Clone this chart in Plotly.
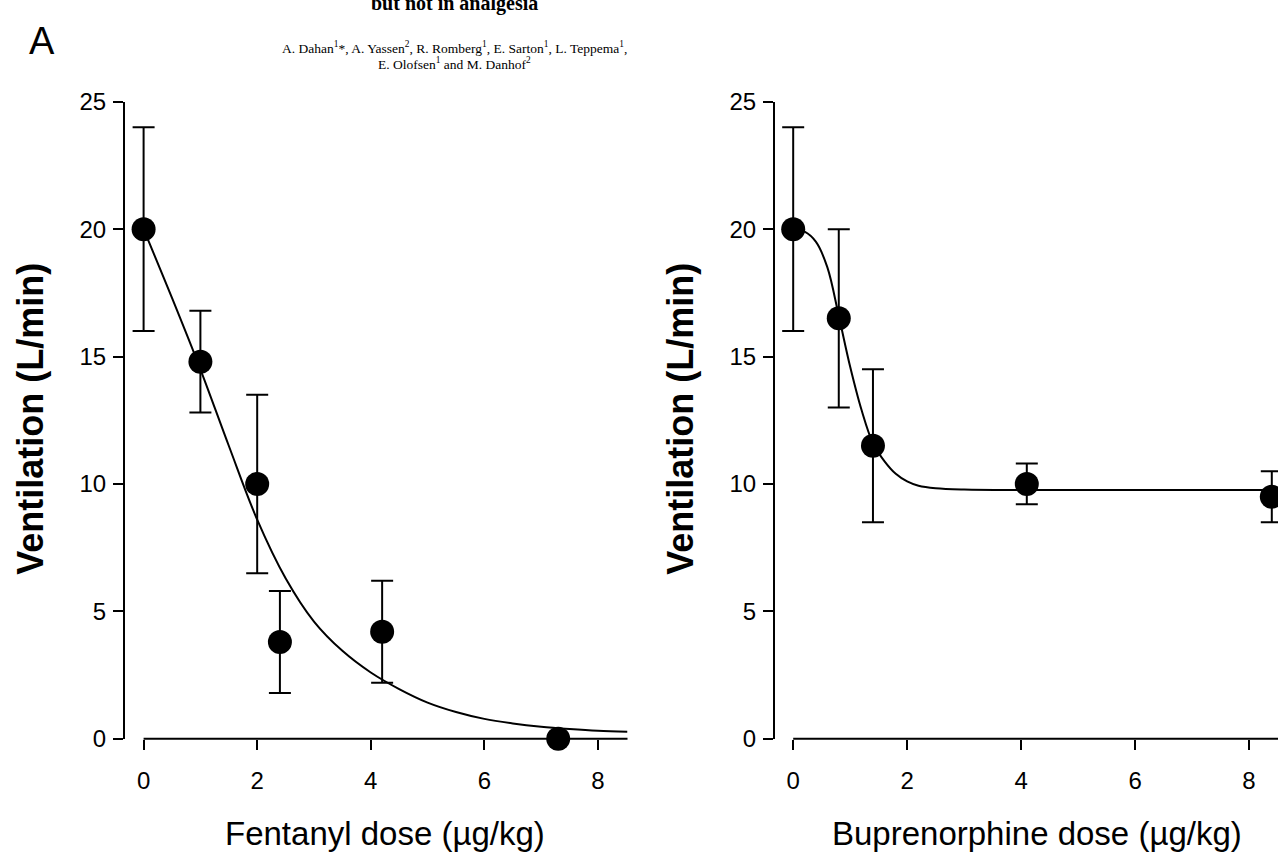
import plotly.graph_objects as go

# ---------------- data ----------------
fent_dose = [0.0, 1.0, 2.0, 2.4, 4.2, 7.3]
fent_vent = [20.0, 14.8, 10.0, 3.8, 4.2, 0.0]
fent_err = [4.0, 2.0, 3.5, 2.0, 2.0, 0.0]

fent_fit_x = [0.0, 0.5, 1.0, 1.5, 2.0, 2.5, 3.0, 3.5, 4.0, 4.5, 5.0, 5.5, 6.0, 6.5, 7.0, 7.5, 8.0, 8.52]
fent_fit_y = [20.0, 17.3, 14.5, 11.5, 8.6, 6.3, 4.6, 3.45, 2.6, 1.95, 1.42, 1.05, 0.78, 0.6, 0.47, 0.38, 0.31, 0.27]

bup_dose = [0.0, 0.8, 1.4, 4.1, 8.4]
bup_vent = [20.0, 16.5, 11.5, 10.0, 9.5]
bup_err = [4.0, 3.5, 3.0, 0.8, 1.0]

bup_fit_x = [0.0, 0.2, 0.4, 0.6, 0.8, 1.0, 1.2, 1.4, 1.6, 1.8, 2.0, 2.2, 2.5, 3.0, 4.0, 6.0, 8.6]
bup_fit_y = [20.0, 19.9, 19.5, 18.5, 16.6, 14.6, 12.9, 11.6, 10.9, 10.4, 10.1, 9.93, 9.83, 9.78, 9.76, 9.76, 9.76]

x_ticks = [0, 2, 4, 6, 8]
y_ticks = [0, 5, 10, 15, 20, 25]

left_title_x = "Fentanyl dose (\u00b5g/kg)"
right_title_x = "Buprenorphine dose (\u00b5g/kg)"
title_y = "Ventilation (L/min)"

# ---------------- layout geometry (pixels) ----------------
W, H = 1278, 858
def px(x):
    return x / W
def py(y):
    return 1 - y / H
def vy(y):
    # vertical placement correction observed on the photographed page
    return (y - 13.2) / 0.9686

left_rng = [-0.3275, 8.52]
right_rng = [-0.3193, 8.5088]

SANS = "Liberation Sans, Arial, Helvetica, sans-serif"
NARROW = "Liberation Sans Narrow, Arial Narrow, Liberation Sans, sans-serif"
SERIF = "Liberation Serif, Times New Roman, serif"

fig = go.Figure()

def add_panel(xs, ys, errs, fx, fy, xa, ya):
    fig.add_trace(go.Scatter(
        x=fx, y=fy, mode="lines", line=dict(color="black", width=2, shape="spline", smoothing=1.0),
        xaxis=xa, yaxis=ya, showlegend=False, hoverinfo="skip"))
    fig.add_trace(go.Scatter(
        x=xs, y=ys, mode="markers",
        marker=dict(color="black", size=24, line=dict(width=0)),
        error_y=dict(type="data", array=errs, visible=True, color="black", thickness=2, width=11),
        xaxis=xa, yaxis=ya, showlegend=False, cliponaxis=False))

add_panel(fent_dose, fent_vent, fent_err, fent_fit_x, fent_fit_y, "x", "y")
add_panel(bup_dose, bup_vent, bup_err, bup_fit_x, bup_fit_y, "x2", "y2")

ydom = [py(vy(738)), py(vy(101))]
axis_common = dict(showgrid=False, zeroline=False, ticks="outside", ticklen=10, tickwidth=2,
                   tickcolor="black", tickfont=dict(family=SANS, size=24, color="black"))

fig.update_layout(
    width=W, height=H,
    margin=dict(l=0, r=0, t=0, b=0),
    paper_bgcolor="white", plot_bgcolor="white",
    xaxis=dict(domain=[px(125), px(627.5)], range=left_rng, tickvals=x_ticks, showline=False,
               anchor="y", ticklabelstandoff=10, **axis_common),
    yaxis=dict(domain=ydom, range=[0, 25], tickvals=y_ticks, showline=True, linewidth=2,
               linecolor="black", anchor="x", ticklabelstandoff=2, **axis_common),
    xaxis2=dict(domain=[px(775), 1.0], range=right_rng, tickvals=x_ticks, showline=False,
                anchor="y2", ticklabelstandoff=10, **axis_common),
    yaxis2=dict(domain=ydom, range=[0, 25], tickvals=y_ticks, showline=True, linewidth=2,
                linecolor="black", anchor="x2", ticklabelstandoff=2, **axis_common),
)

# x-axis lines starting at dose 0 (offset from the y axis, SigmaPlot style)
for xa, ya, rng, xend in [("x", "y", left_rng, 8.52), ("x2", "y2", right_rng, 8.6)]:
    x0 = (0 - rng[0]) / (rng[1] - rng[0])
    x1 = (xend - rng[0]) / (rng[1] - rng[0])
    fig.add_shape(type="line", xref=xa + " domain", yref=ya + " domain",
                  x0=x0, x1=x1, y0=0, y1=0, line=dict(color="black", width=2))

# axis titles
for xc in (31, 681):
    fig.add_annotation(text=title_y, x=px(xc), y=py(vy(418)), xref="paper", yref="paper",
                       textangle=-90, showarrow=False, xanchor="center", yanchor="middle",
                       font=dict(family=SANS, size=36, color="black", weight="bold"))
fig.add_annotation(text=left_title_x, x=px(385), y=py(846), xref="paper", yref="paper",
                   showarrow=False, xanchor="center", yanchor="middle",
                   font=dict(family=SANS, size=33, color="black"))
fig.add_annotation(text=right_title_x, x=px(1037), y=py(846), xref="paper", yref="paper",
                   showarrow=False, xanchor="center", yanchor="middle",
                   font=dict(family=SANS, size=33, color="black"))

# header
fig.add_annotation(text="A", x=px(42), y=py(vy(40)), xref="paper", yref="paper",
                   showarrow=False, xanchor="center", yanchor="middle",
                   font=dict(family=NARROW, size=38, color="black"))
fig.add_annotation(text="but not in analgesia", x=px(455), y=py(vy(3)), xref="paper", yref="paper",
                   showarrow=False, xanchor="center", yanchor="middle",
                   font=dict(family=SERIF, size=20, color="black", weight="bold"))
fig.add_annotation(
    text="A. Dahan<sup>1</sup>*, A. Yassen<sup>2</sup>, R. Romberg<sup>1</sup>, E. Sarton<sup>1</sup>, L. Teppema<sup>1</sup>,",
    x=px(455), y=py(vy(47)), xref="paper", yref="paper", showarrow=False,
    xanchor="center", yanchor="middle", font=dict(family=SERIF, size=13.5, color="black"))
fig.add_annotation(
    text="E. Olofsen<sup>1</sup> and M. Danhof<sup>2</sup>",
    x=px(455), y=py(vy(63)), xref="paper", yref="paper", showarrow=False,
    xanchor="center", yanchor="middle", font=dict(family=SERIF, size=13.5, color="black"))

fig.write_html(
    "out.html",
    config={"displayModeBar": False},
    post_script="document.documentElement.style.margin='0';document.body.style.margin='0';"
                "document.body.style.overflow='hidden';",
)
